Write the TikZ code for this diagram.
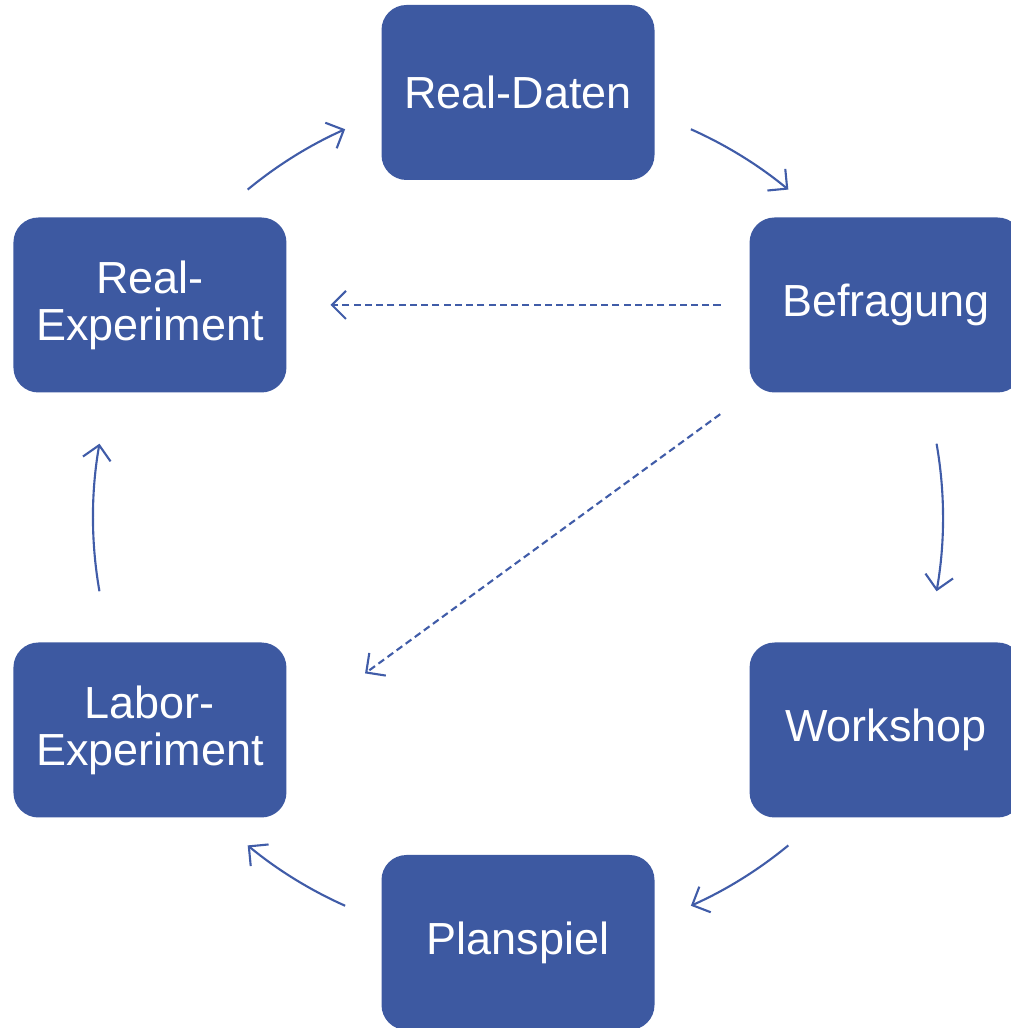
\documentclass[tikz,border=0pt]{standalone}
\usepackage{fontspec}
\setmainfont{Liberation Sans}
\usetikzlibrary{arrows.meta}
\definecolor{boxblue}{RGB}{61,89,161}
\definecolor{lineblue}{RGB}{64,92,168}

\begin{document}
\begin{tikzpicture}[>={Straight Barb[length=1.4mm,width=2.8mm]},line width=0.6pt]
  \tikzstyle{block}=[rectangle,rounded corners=0.25cm,fill=boxblue,text=white,
                     minimum width=2.73cm,minimum height=1.75cm,align=center,
                     font=\fontsize{12.8pt}{13.4pt}\selectfont]
  \tikzstyle{cycle}=[->,draw=lineblue]
  \tikzstyle{hint}=[->,draw=lineblue,dash pattern=on 2pt off 1.2pt]

  \useasboundingbox (0,0) rectangle (10.10,10.28);
  \coordinate (mid) at (5.18,5.105);

  \node[block] (rdaten) at ([shift={(90:4.25)}]mid)   {Real-Daten};
  \node[block] (befr)   at ([shift={(30:4.25)}]mid)   {Befragung};
  \node[block] (work)   at ([shift={(-30:4.25)}]mid)  {Workshop};
  \node[block] (plan)   at ([shift={(-90:4.25)}]mid)  {Planspiel};
  \node[block] (labor)  at ([shift={(-150:4.25)}]mid) {Labor-\\Experiment};
  \node[block] (rexp)   at ([shift={(150:4.25)}]mid)  {Real-\\Experiment};

  % cycle arrows on the circle round mid
  \draw[cycle] ([shift={(129.5:4.25)}]mid) arc[start angle=129.5,end angle=114,radius=4.25];
  \draw[cycle] ([shift={(66:4.25)}]mid)    arc[start angle=66,end angle=50.5,radius=4.25];
  \draw[cycle] ([shift={(10:4.25)}]mid)    arc[start angle=10,end angle=-10,radius=4.25];
  \draw[cycle] ([shift={(-50.5:4.25)}]mid) arc[start angle=-50.5,end angle=-66,radius=4.25];
  \draw[cycle] ([shift={(-114:4.25)}]mid)  arc[start angle=-114,end angle=-129.5,radius=4.25];
  \draw[cycle] ([shift={(190:4.25)}]mid)   arc[start angle=190,end angle=170,radius=4.25];

  % dashed shortcuts
  \draw[hint,shorten <=0.28cm,shorten >=0.43cm] (befr.west) -- (rexp.east);
  \draw[hint,shorten <=0.35cm,shorten >=0.96cm] (befr.south west) -- (labor.east);
\end{tikzpicture}
\end{document}
